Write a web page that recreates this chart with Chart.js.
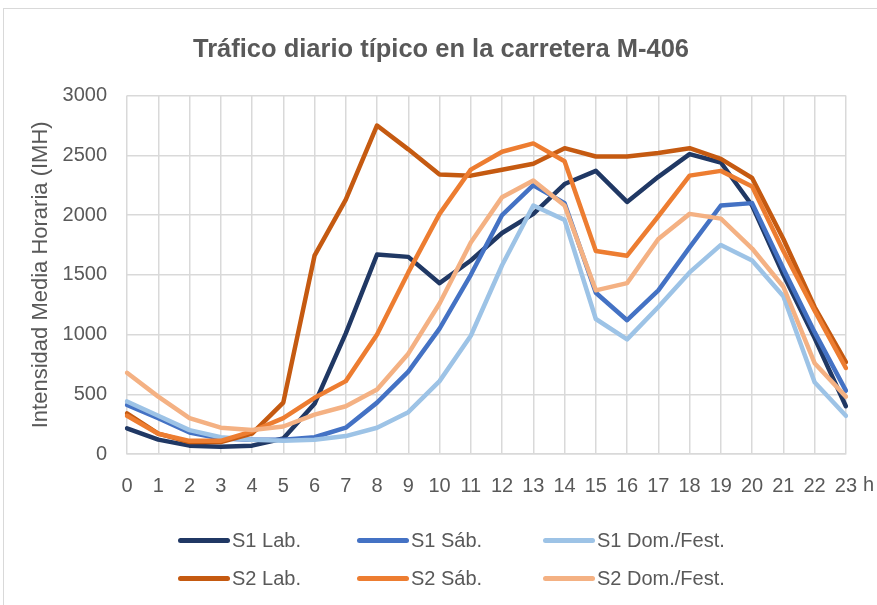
<!DOCTYPE html>
<html lang="es">
<head>
<meta charset="utf-8">
<title>Tráfico diario típico en la carretera M-406</title>
<script src="https://cdn.jsdelivr.net/npm/chart.js@4.4.0/dist/chart.umd.min.js"></script>
<style>
  html, body { margin: 0; padding: 0; background: #fff; }
  #wrap { position: relative; width: 877px; height: 605px; overflow: hidden; }
  #frame { position: absolute; left: 3px; top: 8px; width: 900px; height: 700px; border: 1px solid #d9d9d9; }
  #chart { position: absolute; left: 0; top: 0; }
  #legend { position: absolute; left: 178px; top: 521px; display: grid;
            grid-template-columns: 179px 186px 200px; grid-auto-rows: 38px;
            font-family: "Liberation Sans", Arial, sans-serif;
            font-size: 20px; color: #595959; }
  #legend .item { display: flex; align-items: center; white-space: nowrap; }
  #legend .swatch { width: 52px; height: 5px; border-radius: 3px; margin-right: 2px; }
</style>
</head>
<body>
<div id="wrap">
  <div id="frame"></div>
  <canvas id="chart" width="877" height="605"></canvas>
  <div id="legend"></div>
</div>
<script>
const hours = ["0","1","2","3","4","5","6","7","8","9","10","11","12","13","14","15","16","17","18","19","20","21","22","23"];

const s1Lab = [215, 120, 70, 60, 70, 130, 420, 1010, 1670, 1650, 1430, 1620, 1850, 2010, 2260, 2370, 2110, 2320, 2510, 2440, 2080, 1500, 970, 400];
const s1Sab = [410, 300, 180, 130, 120, 120, 140, 220, 430, 690, 1050, 1500, 2000, 2250, 2100, 1350, 1120, 1370, 1730, 2080, 2100, 1550, 1020, 530];
const s1Dom = [440, 320, 200, 140, 120, 110, 120, 150, 220, 350, 610, 990, 1580, 2080, 1960, 1130, 960, 1230, 1520, 1750, 1620, 1320, 600, 320];
const s2Lab = [340, 170, 100, 100, 170, 430, 1660, 2130, 2750, 2550, 2340, 2330, 2380, 2430, 2560, 2490, 2490, 2520, 2560, 2470, 2310, 1800, 1230, 770];
const s2Sab = [320, 170, 110, 110, 190, 300, 470, 610, 1000, 1520, 2010, 2380, 2530, 2600, 2450, 1700, 1660, 1990, 2330, 2370, 2240, 1700, 1200, 720];
const s2Dom = [680, 480, 300, 220, 200, 230, 330, 400, 540, 840, 1260, 1770, 2150, 2290, 2080, 1370, 1430, 1800, 2010, 1970, 1720, 1400, 760, 480];

const seriesNames = ["S1 Lab.", "S1 Sáb.", "S1 Dom./Fest.", "S2 Lab.", "S2 Sáb.", "S2 Dom./Fest."];
const seriesColors = ["#203864", "#4472c4", "#9dc3e6", "#c55a11", "#ed7d31", "#f4b183"];
const seriesData = [s1Lab, s1Sab, s1Dom, s2Lab, s2Sab, s2Dom];

const sans = '"Liberation Sans", Arial, sans-serif';
const textColor = "#595959";
const gridColor = "#d9d9d9";

// later series are painted over earlier ones
const datasets = seriesData.map((values, i) => ({
  label: seriesNames[i],
  data: values,
  borderColor: seriesColors[i],
  backgroundColor: seriesColors[i],
  borderWidth: 4.5,
  borderJoinStyle: "round",
  borderCapStyle: "round",
  pointRadius: 0,
  tension: 0,
  order: seriesData.length - i,
}));

// "h" unit written after the last hour label
const hourUnit = {
  id: "hourUnit",
  afterDraw(chart) {
    const x = chart.scales.x;
    const ctx = chart.ctx;
    ctx.save();
    ctx.font = "20px " + sans;
    ctx.fillStyle = textColor;
    ctx.textAlign = "left";
    ctx.textBaseline = "middle";
    ctx.fillText("h", x.right + 17, x.top + 20 + 11);
    ctx.restore();
  },
};

const chart = new Chart(document.getElementById("chart"), {
  type: "line",
  data: { labels: hours, datasets: datasets },
  options: {
    responsive: false,
    animation: false,
    layout: { padding: { left: 28, right: 23, top: 10, bottom: 87 } },
    scales: {
      x: {
        grid: { color: gridColor, lineWidth: 1.5, drawTicks: false },
        border: { color: gridColor, width: 1.5 },
        ticks: { color: textColor, font: { family: sans, size: 20 }, padding: 20, maxRotation: 0, autoSkip: false },
      },
      y: {
        min: 0,
        max: 3000,
        grid: { color: gridColor, lineWidth: 1.5, drawTicks: false },
        border: { display: false },
        ticks: {
          stepSize: 500,
          color: textColor,
          font: { family: sans, size: 20 },
          padding: 20,
          callback: (value) => String(value),
        },
        title: {
          display: true,
          text: "Intensidad Media Horaria (IMH)",
          color: textColor,
          font: { family: sans, size: 22 },
          padding: { top: 0, bottom: 0 },
        },
        afterFit(scale) { scale.width = 99; },
      },
    },
    plugins: {
      legend: { display: false },
      tooltip: { enabled: false },
      title: {
        display: true,
        text: "Tráfico diario típico en la carretera M-406",
        color: textColor,
        font: { family: sans, size: 25.5, weight: "bold" },
        padding: { top: 25, bottom: 30 },
      },
    },
  },
  plugins: [hourUnit],
});

// two-row legend built from the datasets
const legend = document.getElementById("legend");
chart.data.datasets.forEach((ds) => {
  const item = document.createElement("div");
  item.className = "item";
  const swatch = document.createElement("span");
  swatch.className = "swatch";
  swatch.style.background = ds.borderColor;
  const label = document.createElement("span");
  label.textContent = ds.label;
  item.appendChild(swatch);
  item.appendChild(label);
  legend.appendChild(item);
});
</script>
</body>
</html>
